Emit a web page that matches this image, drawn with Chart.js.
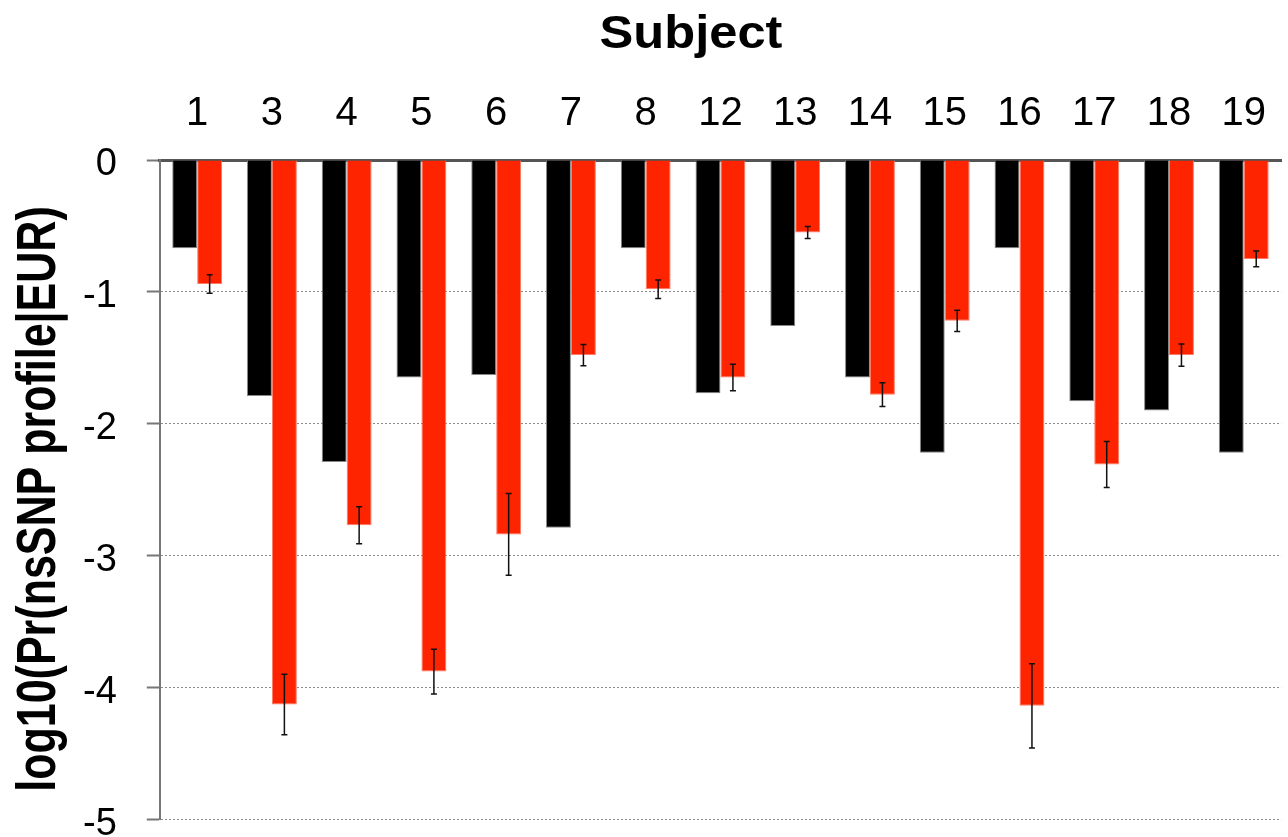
<!DOCTYPE html>
<html>
<head>
<meta charset="utf-8">
<script src="https://cdn.jsdelivr.net/npm/chart.js@4"></script>
<style>
  html, body { margin: 0; padding: 0; background: #fff; overflow: hidden; }
  #wrap { width: 1288px; height: 872px; }
</style>
</head>
<body>
<div id="wrap"><canvas id="bar-chart" width="1288" height="872"></canvas></div>
<script>
// values (log10 scale)
const subjects = ['1', '3', '4', '5', '6', '7', '8', '12', '13', '14', '15', '16', '17', '18', '19'];
const blackVals = [-0.67, -1.79, -2.29, -1.65, -1.63, -2.79, -0.67, -1.77, -1.26, -1.65, -2.22, -0.67, -1.83, -1.90, -2.22];
const redVals = [-0.94, -4.13, -2.77, -3.88, -2.84, -1.48, -0.98, -1.65, -0.55, -1.78, -1.22, -4.14, -2.31, -1.48, -0.75];
const redErr = [0.07, 0.23, 0.14, 0.17, 0.31, 0.08, 0.07, 0.10, 0.045, 0.09, 0.08, 0.32, 0.175, 0.085, 0.06];
const yTicks = [0, -1, -2, -3, -4, -5];
const xTitle = 'Subject';
const yTitle = 'log10(Pr(nsSNP profile|EUR)';

const FONT = '"Liberation Sans", Arial, Helvetica, sans-serif';

/* error bars on the red series */
const errorBars = {
  id: 'errorBars',
  afterDatasetsDraw(chart) {
    const ctx = chart.ctx;
    const yScale = chart.scales.y;
    const meta = chart.getDatasetMeta(1);
    ctx.save();
    ctx.strokeStyle = '#111';
    ctx.lineWidth = 1.5;
    meta.data.forEach((bar, i) => {
      const v = redVals[i], e = redErr[i];
      const top = yScale.getPixelForValue(v + e);
      const bot = yScale.getPixelForValue(v - e);
      ctx.beginPath();
      ctx.moveTo(bar.x, top); ctx.lineTo(bar.x, bot);
      ctx.moveTo(bar.x - 3, top); ctx.lineTo(bar.x + 3, top);
      ctx.moveTo(bar.x - 3, bot); ctx.lineTo(bar.x + 3, bot);
      ctx.stroke();
    });
    ctx.restore();
  }
};

/* titles: the source figure has slightly widened lettering */
const axisTitles = {
  id: 'axisTitles',
  afterDraw(chart) {
    const ctx = chart.ctx;
    ctx.save();
    ctx.fillStyle = '#000';
    ctx.textAlign = 'center';
    ctx.textBaseline = 'alphabetic';
    ctx.font = 'bold 46px ' + FONT;
    // top title
    ctx.save();
    ctx.translate(691, 48);
    ctx.scale(1.1, 1);
    ctx.fillText(xTitle, 0, 0);
    ctx.restore();
    // left title
    ctx.font = 'bold 43px ' + FONT;
    ctx.translate(55, 499);
    ctx.rotate(-Math.PI / 2);
    ctx.scale(1, 1.27);
    ctx.fillText(yTitle, 0, 0);
    ctx.restore();
  }
};

new Chart(document.getElementById('bar-chart'), {
  type: 'bar',
  data: {
    labels: subjects,
    datasets: [{
        data: blackVals,
        backgroundColor: '#000',
        borderColor: '#888',
        borderWidth: 1,
        barPercentage: 1,
        categoryPercentage: 0.667
      }, {
        data: redVals,
        backgroundColor: '#ff2400',
        borderColor: '#ff7a66',
        borderWidth: 1,
        barPercentage: 1,
        categoryPercentage: 0.667
      }
    ]
  },
  options: {
    responsive: false,
    animation: false,
    devicePixelRatio: 1,
    layout: { padding: { left: 53, right: -4, top: 68, bottom: 7 } },
    plugins: {
      legend: { display: false },
      tooltip: { enabled: false },
      title: { display: false }
    },
    scales: {
      x: {
        position: 'top',
        grid: { display: false, drawTicks: false },
        border: { display: true, color: '#555', width: 3 },
        ticks: { color: '#000', font: { family: FONT, size: 40 }, padding: 22 }
      },
      y: {
        min: -5,
        max: 0,
        afterBuildTicks: (axis) => { axis.ticks = yTicks.map(v => ({ value: v })); },
        grid: {
          color: (c) => (c.tick && c.tick.value === 0) ? 'rgba(0,0,0,0)' : '#8a8a8a',
          lineWidth: 1,
          drawTicks: true,
          tickLength: 13,
          tickColor: '#777',
          tickWidth: 2,
          tickBorderDash: [0, 0]
        },
        border: { display: true, color: '#777', width: 2, dash: [2, 2] },
        ticks: {
          color: '#000',
          font: { family: FONT, size: 38 },
          padding: 30,
          labelOffset: 5
        }
      }
    }
  },
  plugins: [errorBars, axisTitles]
});
</script>
</body>
</html>
